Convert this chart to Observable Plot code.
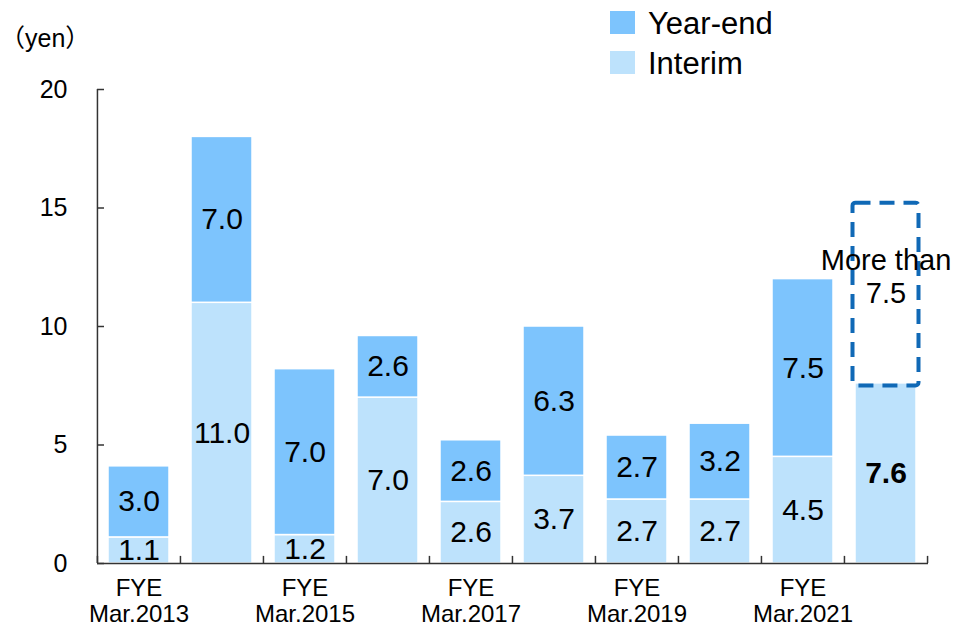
<!DOCTYPE html>
<html><head><meta charset="utf-8">
<script src="https://cdn.jsdelivr.net/npm/d3@7"></script>
<script src="https://cdn.jsdelivr.net/npm/@observablehq/plot@0.6"></script>
<style>
body{margin:0;background:#fff;}
#wrap{position:relative;width:953px;height:631px;font-family:"Liberation Sans",Arial,sans-serif;color:#000;}
#wrap svg{position:absolute;left:0;top:0;}
.unit{position:absolute;left:0;top:21px;font-size:25px;line-height:34px;font-family:"Liberation Sans","Noto Sans CJK JP",sans-serif;}
.leg{position:absolute;left:610px;font-size:31px;line-height:31px;white-space:nowrap;}
.leg .sw{position:absolute;left:0;top:3px;width:25px;height:23px;}
.leg .lab{position:absolute;left:38px;top:0;}
</style></head><body><div id="wrap"></div>
<script>
// ---- data ----
const years = ["2013","2014","2015","2016","2017","2018","2019","2020","2021","2022"];
const interim = [1.1, 11.0, 1.2, 7.0, 2.6, 3.7, 2.7, 2.7, 4.5, 7.6];
const yearEnd = [3.0, 7.0, 7.0, 2.6, 2.6, 6.3, 2.7, 3.2, 7.5, null];
const forecastYear = "2022";
const forecastYearEnd = 7.5;          // "More than 7.5"
const labeledYears = ["2013","2015","2017","2019","2021"];
const yTicks = [0, 5, 10, 15, 20];
const seriesNames = ["Year-end", "Interim"];
const colors = {"Year-end": "#7dc4fd", "Interim": "#bde2fc"};
const dashColor = "#1069b6";

// ---- derived tables ----
const segs = [];
years.forEach((yr, i) => {
  segs.push({year: yr, series: "Interim", y1: 0, y2: interim[i], v: interim[i]});
  if (yearEnd[i] != null)
    segs.push({year: yr, series: "Year-end", y1: interim[i], y2: interim[i] + yearEnd[i], v: yearEnd[i]});
});
const fi = years.indexOf(forecastYear);
const forecast = [{year: forecastYear, y1: interim[fi], y2: interim[fi] + forecastYearEnd, v: forecastYearEnd}];

const W = 953, H = 631, mL = 97, mR = 25, mT = 89, mB = 68;
const step = (W - mL - mR) / years.length;
const plotW = W - mL - mR;

const chart = Plot.plot({
  width: W, height: H,
  marginLeft: mL, marginRight: mR, marginTop: mT, marginBottom: mB,
  style: {fontFamily: "'Liberation Sans', Arial, sans-serif", color: "#000", background: "transparent"},
  x: {domain: years, paddingInner: 0.265, paddingOuter: 0.1325, label: null},
  y: {domain: [0, 20], label: null},
  marks: [
    Plot.barY(segs.filter(d => d.series === "Interim"), {x: "year", y1: "y1", y2: "y2", fill: colors["Interim"], stroke: "white", strokeWidth: 1.5}),
    Plot.barY(segs.filter(d => d.series === "Year-end"), {x: "year", y1: "y1", y2: "y2", fill: colors["Year-end"], stroke: "white", strokeWidth: 1.5}),
    Plot.barY(forecast, {x: "year", y1: "y1", y2: "y2", fill: "none", stroke: dashColor, strokeWidth: 4, strokeDasharray: "15,9", rx: 3, inset: -2.5}),
    Plot.text(segs.filter(d => d.year !== forecastYear), {x: "year", y: d => (d.y1 + d.y2) / 2, text: d => d.v.toFixed(1), fontSize: 30}),
    Plot.text(segs.filter(d => d.year === forecastYear), {x: "year", y: d => (d.y1 + d.y2) / 2, text: d => d.v.toFixed(1), fontSize: 30, fontWeight: "bold"}),
    Plot.text(forecast, {x: "year", y: d => (d.y1 + d.y2) / 2, text: d => `More than\n${d.v.toFixed(1)}`, fontSize: 29, lineHeight: 1.15, dy: -19}),
    // axis lines
    Plot.ruleY([0], {stroke: "#333", strokeWidth: 1.5}),
    Plot.ruleX([years[0]], {x: d => d, y1: 0, y2: 20, dx: -step / 2, stroke: "#333", strokeWidth: 1.5}),
    // x ticks at band boundaries, pointing up
    Plot.ruleX(years, {x: d => d, y1: 0, y2: 0.3, dx: -step / 2, stroke: "#333", strokeWidth: 1.5}),
    Plot.ruleX([years[years.length - 1]], {x: d => d, y1: 0, y2: 0.3, dx: step / 2, stroke: "#333", strokeWidth: 1.5}),
    // y ticks pointing inward
    Plot.tickY(yTicks, {y: d => d, insetRight: plotW - 7, stroke: "#333", strokeWidth: 1.5}),
    Plot.axisX({tickSize: 0, tickPadding: 15, fontSize: 24, lineHeight: 1.05,
      tickFormat: d => labeledYears.includes(d) ? `FYE\nMar.${d}` : ""}),
    Plot.axisY({ticks: yTicks, tickSize: 0, tickPadding: 30, fontSize: 25, tickFormat: d => String(d)})
  ]
});

const wrap = document.getElementById("wrap");
wrap.appendChild(chart);

const unit = document.createElement("div");
unit.className = "unit";
unit.textContent = "（yen）";
wrap.appendChild(unit);

seriesNames.forEach((name, i) => {
  const el = document.createElement("div");
  el.className = "leg";
  el.style.top = (8 + i * 40) + "px";
  el.innerHTML = `<span class="sw" style="background:${colors[name]}"></span><span class="lab">${name}</span>`;
  wrap.appendChild(el);
});
</script></body></html>
